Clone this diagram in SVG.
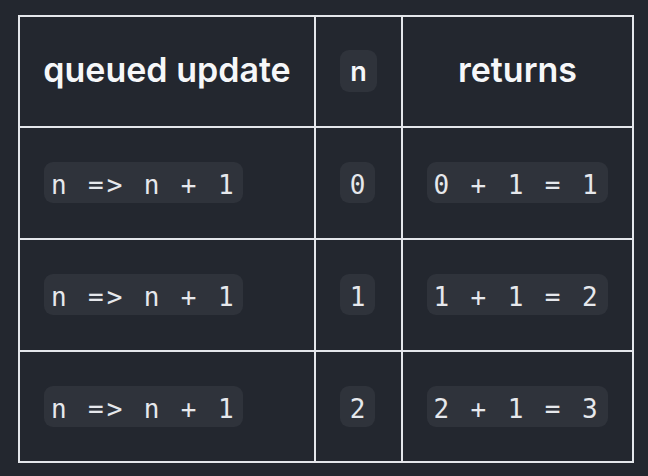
<svg xmlns="http://www.w3.org/2000/svg" width="648" height="476" viewBox="0 0 648 476">
<style>
.grid{stroke:#e4e6eb;stroke-width:2;fill:none}
.pill{fill:#2f333b}
.h{font-family:Inter,"Liberation Sans",sans-serif;font-weight:600;font-size:34px;fill:#f6f7f9;text-anchor:middle}
.hn{font-family:Inter,"Liberation Sans",sans-serif;font-weight:600;font-size:27px;fill:#f6f7f9;text-anchor:middle}
.c{font-family:"DejaVu Sans Mono","Liberation Mono",monospace;font-size:26px;letter-spacing:2.9px;fill:#e6e8ec}
</style>
<rect width="648" height="476" fill="#23272f"/>
<g id="connectors">
<rect class="grid" x="19" y="16" width="614" height="446"/>
<line class="grid" x1="315" y1="16" x2="315" y2="462"/>
<line class="grid" x1="402" y1="16" x2="402" y2="462"/>
<line class="grid" x1="19" y1="127" x2="633" y2="127"/>
<line class="grid" x1="19" y1="239" x2="633" y2="239"/>
<line class="grid" x1="19" y1="351" x2="633" y2="351"/>
</g>
<g id="header-queued"><text class="h" x="167" y="82">queued update</text></g>
<g id="header-n"><rect class="pill" x="340" y="50" width="37" height="42" rx="9"/><text class="hn" x="358.5" y="81">n</text></g>
<g id="header-returns"><text class="h" x="517.5" y="82">returns</text></g>

<g id="r1-update"><rect class="pill" x="44" y="162" width="199" height="41" rx="9"/><text class="c" x="51" y="193.5">n =&gt; n + 1</text></g>
<g id="r1-n"><rect class="pill" x="340" y="162" width="35" height="41" rx="9"/><text class="c" x="349.7" y="193.5">0</text></g>
<g id="r1-returns"><rect class="pill" x="427" y="162" width="181" height="41" rx="9"/><text class="c" x="433.5" y="193.5">0 + 1 = 1</text></g>

<g id="r2-update"><rect class="pill" x="44" y="274" width="199" height="41" rx="9"/><text class="c" x="51" y="305.5">n =&gt; n + 1</text></g>
<g id="r2-n"><rect class="pill" x="340" y="274" width="35" height="41" rx="9"/><text class="c" x="349.7" y="305.5">1</text></g>
<g id="r2-returns"><rect class="pill" x="427" y="274" width="181" height="41" rx="9"/><text class="c" x="433.5" y="305.5">1 + 1 = 2</text></g>

<g id="r3-update"><rect class="pill" x="44" y="386" width="199" height="41" rx="9"/><text class="c" x="51" y="417.5">n =&gt; n + 1</text></g>
<g id="r3-n"><rect class="pill" x="340" y="386" width="35" height="41" rx="9"/><text class="c" x="349.7" y="417.5">2</text></g>
<g id="r3-returns"><rect class="pill" x="427" y="386" width="181" height="41" rx="9"/><text class="c" x="433.5" y="417.5">2 + 1 = 3</text></g>
</svg>
